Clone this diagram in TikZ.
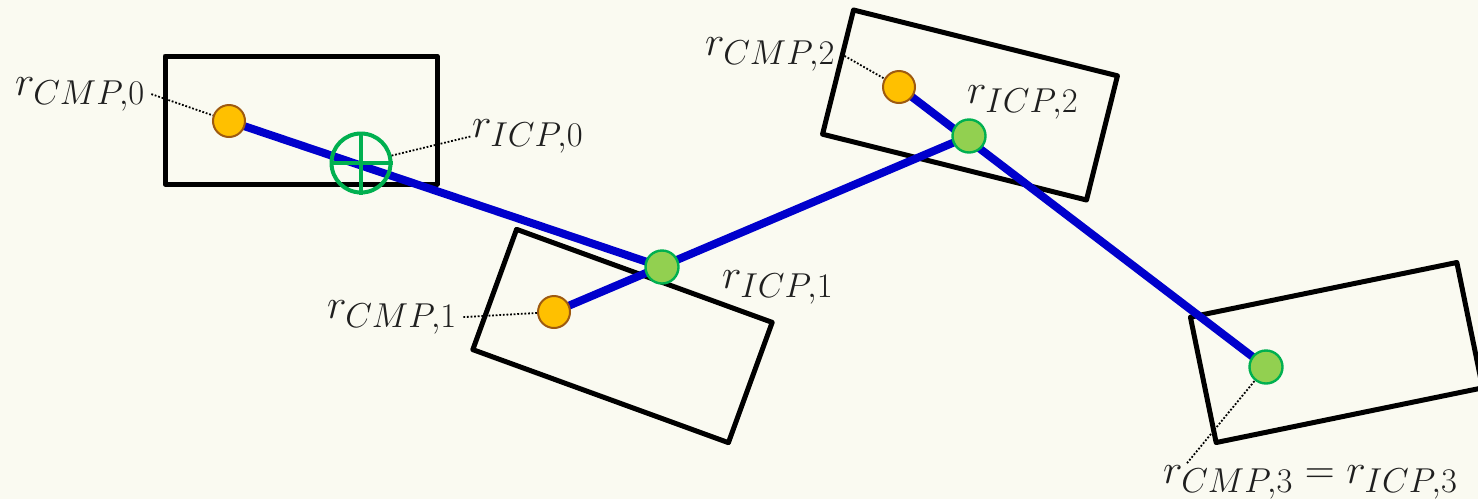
\documentclass[tikz,border=0pt]{standalone}
\usetikzlibrary{calc}
\DeclareMathSizes{22}{22}{16.5}{12}
\definecolor{bgc}{RGB}{250,250,241}
\definecolor{cmpfill}{RGB}{255,192,0}
\definecolor{cmpdraw}{RGB}{158,90,16}
\definecolor{icpfill}{RGB}{146,208,80}
\definecolor{icpdraw}{RGB}{0,176,80}
\definecolor{trajblue}{RGB}{0,0,204}
\begin{document}
\begin{tikzpicture}[x=0.5pt,y=-0.5pt,
  footbox/.style={draw=black,line width=2.5pt,minimum width=136pt,minimum height=64pt,inner sep=0pt,outer sep=0pt,line join=round},
  cmppt/.style={circle,fill=cmpfill,draw=cmpdraw,line width=1pt,minimum size=16pt,inner sep=0pt},
  icppt/.style={circle,fill=icpfill,draw=icpdraw,line width=1.2pt,minimum size=16.5pt,inner sep=0pt},
  icpcross/.style={circle,draw=icpdraw,line width=2pt,minimum size=29.5pt,inner sep=0pt},
  traj/.style={draw=trajblue,line width=4pt},
  dotline/.style={draw=black,line width=0.9pt,dash pattern=on 0.9pt off 0.9pt},
  lbl/.style={inner sep=0pt,outer sep=0pt,anchor=base west,text=black!88,font=\fontsize{22}{26}\selectfont}
]
\fill[bgc] (0,0) rectangle (1478,499);
\useasboundingbox (0,0) rectangle (1478,499);

% foot boxes
\node[footbox] (b0) at (301,120) {};
\node[footbox,rotate=-20] (b1) at (622.5,336) {};
\node[footbox,rotate=-14] (b2) at (970,105) {};
\node[footbox,rotate=11.6] (b3) at (1336.5,352.5) {};

% coordinates of points
\coordinate (pc0) at (229,121);
\coordinate (pi0) at (361,163);
\coordinate (pi1) at (662,267);
\coordinate (pc1) at (554,312);
\coordinate (pi2) at (969,136);
\coordinate (pc2) at (899,87);
\coordinate (pi3) at (1266,367);

% labels
\node[lbl] (lc0) at (15,95) {$r_{CMP,0}$};
\node[lbl] (li0) at (472,137) {$r_{ICP,0}$};
\node[lbl] (lc1) at (327,318) {$r_{CMP,1}$};
\node[lbl] (li1) at (722,288) {$r_{ICP,1}$};
\node[lbl] (lc2) at (705,55) {$r_{CMP,2}$};
\node[lbl] (li2) at (967,103) {$r_{ICP,2}$};
\node[lbl] (lc3) at (1163,483) {$r_{CMP,3}=r_{ICP,3}$};

% dotted leaders (behind points)
\draw[dotline] ([xshift=3pt]lc0.east) -- (pc0);
\draw[dotline] ([xshift=3pt]lc1.east) -- (pc1);
\draw[dotline] ([xshift=3pt]lc2.east) -- (pc2);
\coordinate (lc3a) at ([xshift=12pt,yshift=1pt]lc3.north west);
\draw[dotline] (lc3a) -- (pi3);

% trajectories
\draw[traj] (pc0) -- (pi1);
\draw[traj] (pc1) -- (pi2);
\draw[traj] (pc2) -- (pi3);

% points
\node[cmppt] (c0) at (pc0) {};
\node[cmppt] (c1) at (pc1) {};
\node[cmppt] (c2) at (pc2) {};
\node[icppt] (i1) at (pi1) {};
\node[icppt] (i2) at (pi2) {};
\node[icppt] (i3) at (pi3) {};
\node[icpcross] (i0) at (pi0) {};
\draw[draw=icpdraw,line width=2pt] (i0.north) -- (i0.south) (i0.west) -- (i0.east);
\draw[dotline] (i0) -- (li0.west);
\end{tikzpicture}
\end{document}
